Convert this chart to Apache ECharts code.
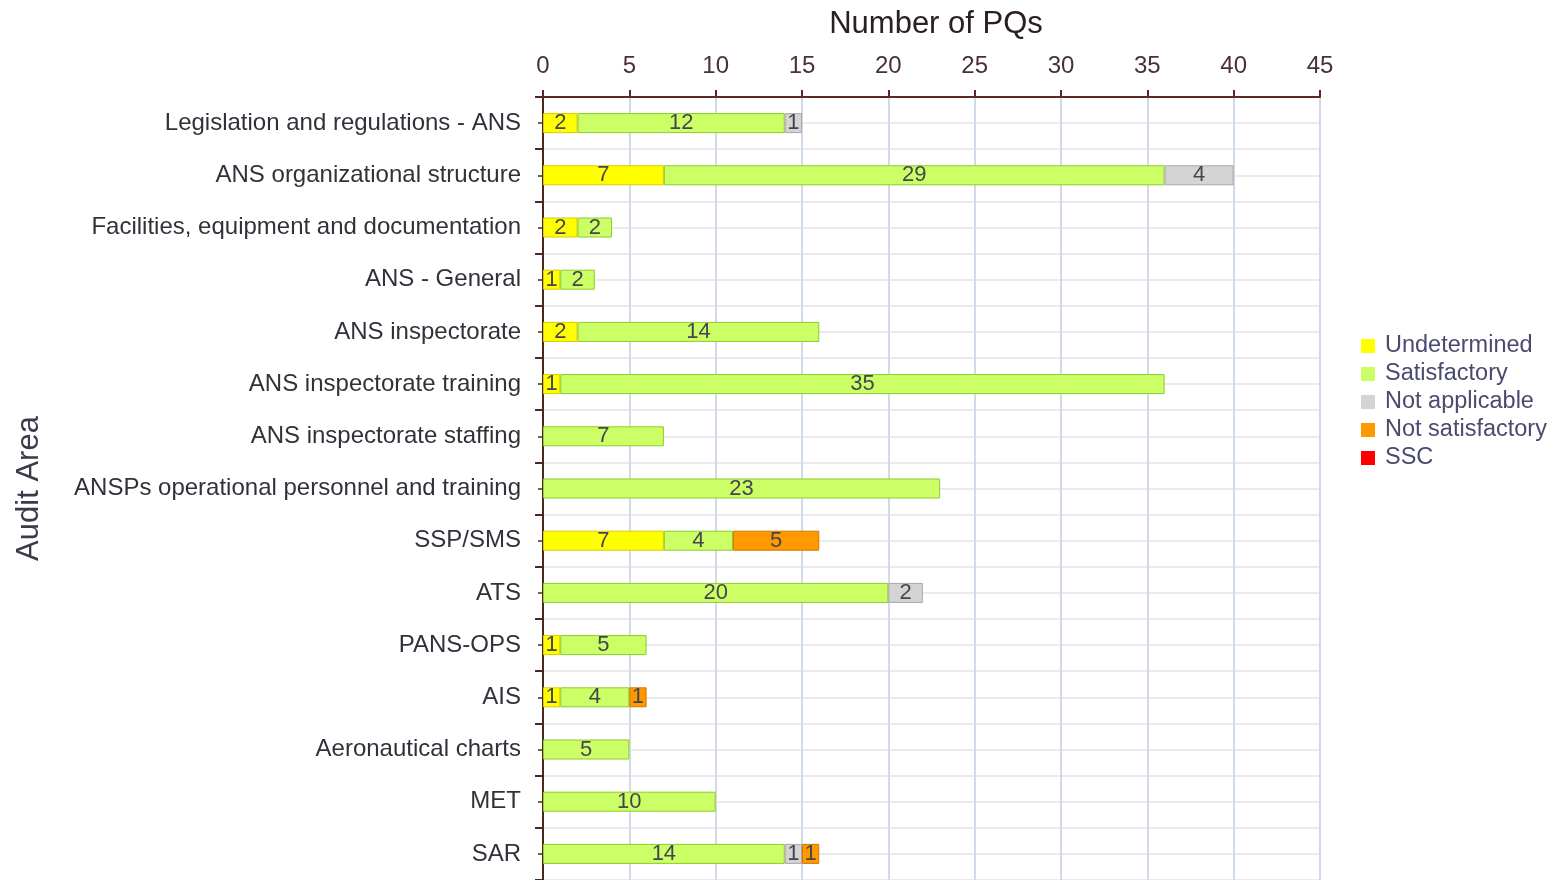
<!DOCTYPE html>
<html>
<head>
<meta charset="utf-8">
<script src="https://cdn.jsdelivr.net/npm/echarts@6/dist/echarts.min.js"></script>
<style>
  html, body { margin: 0; padding: 0; background: #fff; }
  #chart { width: 1557px; height: 880px; }
</style>
</head>
<body>
<div id="chart"></div>
<script>
const categories = [
  'Legislation and regulations - ANS',
  'ANS organizational structure',
  'Facilities, equipment and documentation',
  'ANS - General',
  'ANS inspectorate',
  'ANS inspectorate training',
  'ANS inspectorate staffing',
  'ANSPs operational personnel and training',
  'SSP/SMS',
  'ATS',
  'PANS-OPS',
  'AIS',
  'Aeronautical charts',
  'MET',
  'SAR'
];
const undetermined    = [2, 7, 2, 1, 2, 1, 0, 0, 7, 0, 1, 1, 0, 0, 0];
const satisfactory    = [12, 29, 2, 2, 14, 35, 7, 23, 4, 20, 5, 4, 5, 10, 14];
const notApplicable   = [1, 4, 0, 0, 0, 0, 0, 0, 0, 2, 0, 0, 0, 0, 1];
const notSatisfactory = [0, 0, 0, 0, 0, 0, 0, 0, 5, 0, 0, 1, 0, 0, 1];
const ssc             = [0, 0, 0, 0, 0, 0, 0, 0, 0, 0, 0, 0, 0, 0, 0];
const xTicks = [0, 5, 10, 15, 20, 25, 30, 35, 40, 45];

const font = '"Liberation Sans", Arial, sans-serif';

function makeSeries(name, values, color, border) {
  return {
    name: name,
    type: 'bar',
    stack: 'total',
    yAxisIndex: 0,
    barWidth: 20,
    itemStyle: { color: color, borderColor: border, borderWidth: 1 },
    label: {
      show: true,
      position: 'inside',
      color: '#454552',
      fontSize: 22,
      fontFamily: font,
      formatter: p => (p.value > 0 ? p.value : '')
    },
    data: values.map(v => (v > 0 ? v : '-'))
  };
}

const chart = echarts.init(document.getElementById('chart'), null, { renderer: 'canvas' });
chart.setOption({
  animation: false,
  title: {
    text: 'Number of PQs',
    left: 931,
    top: 4,
    textAlign: 'center',
    textStyle: { fontFamily: font, fontSize: 31, fontWeight: 'normal', color: '#2a2020' }
  },
  legend: {
    orient: 'vertical',
    left: 1356,
    top: 329,
    itemWidth: 14,
    itemHeight: 14,
    itemGap: 4,
    icon: 'rect',
    itemStyle: { borderWidth: 0 },
    textStyle: { fontFamily: font, fontSize: 23.5, color: '#4a4a6e', padding: [0, 0, 0, 5] },
    data: ['Undetermined', 'Satisfactory', 'Not applicable', 'Not satisfactory', 'SSC']
  },
  grid: { left: 543, top: 97, width: 777, height: 784 },
  xAxis: {
    type: 'value',
    position: 'top',
    min: 0,
    max: 45,
    interval: 5,
    axisLine: { show: true, lineStyle: { color: '#5a2a20', width: 2 } },
    axisTick: { show: true, length: 7, lineStyle: { color: '#5a2a20', width: 2 } },
    axisLabel: {
      margin: 19,
      fontFamily: font,
      fontSize: 24,
      color: '#4a3038',
      formatter: v => (xTicks.indexOf(v) >= 0 ? String(v) : '')
    },
    splitLine: { show: true, lineStyle: { color: '#d0dbe8', width: 2 } }
  },
  yAxis: [
    {
      type: 'category',
      inverse: true,
      data: categories,
      axisLine: { show: false },
      axisTick: { show: false },
      splitLine: { show: false },
      axisLabel: { margin: 22, fontFamily: font, fontSize: 24, color: '#34303a' },
      name: 'Audit Area',
      nameLocation: 'middle',
      nameGap: 498,
      nameRotate: 90,
      nameTextStyle: { fontFamily: font, fontSize: 31, color: '#3a3a4a' }
    },
    {
      type: 'value',
      position: 'left',
      inverse: true,
      min: 0,
      max: categories.length,
      interval: 1,
      axisLabel: { show: false },
      axisLine: { show: true, lineStyle: { color: '#4a2a20', width: 2 } },
      axisTick: { show: true, length: 8, lineStyle: { color: '#4a2a20', width: 2 } },
      minorTick: { show: true, splitNumber: 2, length: 5, lineStyle: { color: '#4a2a20', width: 1.5 } },
      splitLine: { show: true, lineStyle: { color: '#ebebeb', width: 2 } },
      minorSplitLine: { show: true, lineStyle: { color: '#ebebeb', width: 2 } }
    }
  ],
  series: [
    makeSeries('Undetermined', undetermined, '#ffff00', '#d9cc00'),
    makeSeries('Satisfactory', satisfactory, '#ccff66', '#8ccc2a'),
    makeSeries('Not applicable', notApplicable, '#d4d4d4', '#a8a8a8'),
    makeSeries('Not satisfactory', notSatisfactory, '#ff9900', '#d07800'),
    makeSeries('SSC', ssc, '#ff0000', '#cc0000')
  ]
});
</script>
</body>
</html>
